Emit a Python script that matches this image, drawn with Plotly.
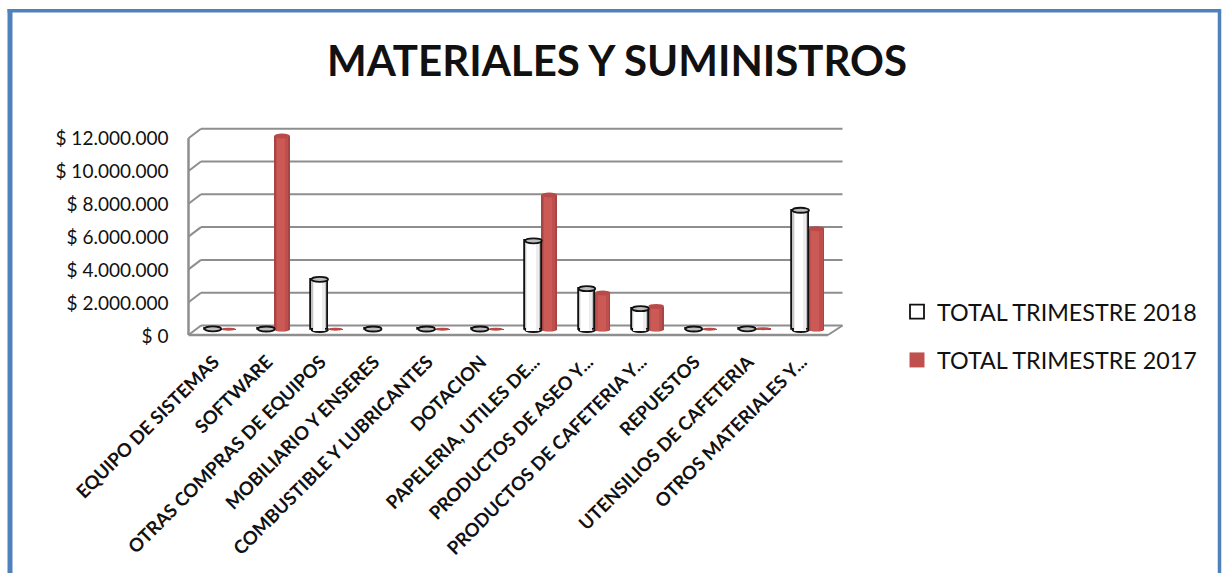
import plotly.graph_objects as go

categories = ["EQUIPO DE SISTEMAS", "SOFTWARE", "OTRAS COMPRAS DE EQUIPOS", "MOBILIARIO Y ENSERES",
              "COMBUSTIBLE Y LUBRICANTES", "DOTACION", "PAPELERIA, UTILES DE...", "PRODUCTOS DE ASEO Y...",
              "PRODUCTOS DE CAFETERIA Y...", "REPUESTOS", "UTENSILIOS DE CAFETERIA", "OTROS MATERIALES Y..."]
total_2018 = [40000, 30000, 3060000, 30000, 30000, 30000, 5410000, 2490000, 1270000, 30000, 40000, 7270000]
total_2017 = [20000, 11800000, 20000, 0, 20000, 20000, 8200000, 2230000, 1410000, 20000, 50000, 6150000]
tick_values = [0, 2000000, 4000000, 6000000, 8000000, 10000000, 12000000]
tick_labels = ["$ 0", "$ 2.000.000", "$ 4.000.000", "$ 6.000.000", "$ 8.000.000", "$ 10.000.000", "$ 12.000.000"]
name_2018 = "TOTAL TRIMESTRE 2018"
name_2017 = "TOTAL TRIMESTRE 2017"

W, H = 1222, 573
FONT = "Lato, Carlito, sans-serif"
GREY = "#8E8E8E"
RED = "#C0504D"
YMAX = 12000000
positions = list(range(len(categories)))


def px(v):
    return v / W


def py(v):
    return 1 - v / H


X_SPAN = (194.03, 835.3)
PX_PER_CAT = (X_SPAN[1] - X_SPAN[0]) / len(categories)
PX_PER_UNIT = 196.8 / YMAX
OFF_W, OFF_R = -7.85 / PX_PER_CAT, 7.85 / PX_PER_CAT
PAD = 1.5 / PX_PER_UNIT  # inner shading layers reach slightly below the base to hide the outline

fig = go.Figure()


def bar_layers(xs, ys, name, layers):
    for i, (w, shift, color, line) in enumerate(layers):
        pad = PAD if i else 0
        fig.add_bar(x=[x + shift / PX_PER_CAT for x in xs], y=[v + pad if v > 100000 else 0 for v in ys] if i else ys,
                    base=-pad if i else None, width=w / PX_PER_CAT, name=name,
                    yaxis="y3", xaxis="x", showlegend=False, hoverinfo="skip" if i else None,
                    marker=dict(color=color, line=dict(color=line, width=1.8 if line != color else 0)))


bar_layers([p + OFF_R for p in positions], total_2017, name_2017,
           [(15.7, 0, "#A64543", "#A64543"), (12.5, 0, "#BE4F4C", "#BE4F4C"), (8, -1, "#CB5A56", "#CB5A56")])
bar_layers([p + OFF_W for p in positions], total_2018, name_2018,
           [(16.6, 0, "#C4C4C4", "#111111"), (12.5, -0.8, "#EDEDED", "#EDEDED"), (8.5, -1.8, "#FFFFFF", "#FFFFFF")])

# legend entries
fig.add_scatter(x=[None], y=[None], mode="markers", name=name_2018, legendgroup="a", xaxis="x", yaxis="y3",
                marker=dict(symbol="square", size=14, color="white", line=dict(color="#111111", width=1.8)))
fig.add_scatter(x=[None], y=[None], mode="markers", name=name_2017, legendgroup="b", xaxis="x", yaxis="y3",
                marker=dict(symbol="square", size=15, color=RED))
# axis carriers
fig.add_scatter(x=[None], y=[None], xaxis="x", yaxis="y", showlegend=False, hoverinfo="skip")
fig.add_scatter(x=[None], y=[None], xaxis="x2", yaxis="y2", showlegend=False, hoverinfo="skip")

shapes = []
# blue frame
for x0, y0, x1, y1, wd in [(10, 9, 10, 573, 5), (7.5, 10.8, 1219.5, 10.8, 3.5), (1219.5, 9, 1219.5, 573, 3.5)]:
    shapes.append(dict(type="line", xref="paper", yref="paper", x0=px(x0), y0=py(y0), x1=px(x1), y1=py(y1),
                       line=dict(color="#4F81BD", width=wd), layer="below"))

# 3D walls and floor
FRONT_L, BACK_L, FRONT_R, BACK_R = 188.5, 201, 828, 842.5
FRONT_0, BACK_0 = 335, 325.5
for t in tick_values:
    dy = t * PX_PER_UNIT
    shapes.append(dict(type="line", xref="paper", yref="paper", x0=px(FRONT_L), y0=py(FRONT_0 - dy),
                       x1=px(BACK_L), y1=py(BACK_0 - dy), line=dict(color=GREY, width=2), layer="below"))
    shapes.append(dict(type="line", xref="paper", yref="paper", x0=px(BACK_L), y0=py(BACK_0 - dy),
                       x1=px(BACK_R), y1=py(BACK_0 - dy), line=dict(color=GREY, width=2), layer="below"))
shapes.append(dict(type="line", xref="paper", yref="paper", x0=px(FRONT_L), y0=py(FRONT_0), x1=px(FRONT_R),
                   y1=py(FRONT_0), line=dict(color=GREY, width=2.5), layer="below"))
shapes.append(dict(type="line", xref="paper", yref="paper", x0=px(FRONT_R), y0=py(FRONT_0), x1=px(BACK_R),
                   y1=py(BACK_0), line=dict(color=GREY, width=2), layer="below"))
shapes.append(dict(type="line", xref="paper", yref="paper", x0=px(FRONT_L), y0=py(FRONT_0), x1=px(FRONT_L),
                   y1=py(FRONT_0 - 196.8), line=dict(color=GREY, width=2.5), layer="below"))


def ellipse(xc, val, w, h, fill, line, width, layer):
    shapes.append(dict(type="circle", xref="x", yref="y3", layer=layer, fillcolor=fill,
                       x0=xc - w / 2 / PX_PER_CAT, x1=xc + w / 2 / PX_PER_CAT,
                       y0=val - h / 2 / PX_PER_UNIT, y1=val + h / 2 / PX_PER_UNIT,
                       line=dict(color=line, width=width)))


for p, a, b in zip(positions, total_2018, total_2017):
    xa, xb = p + OFF_W, p + OFF_R
    if b > 0:
        tall = b > 100000
        if tall:
            ellipse(xb, 0, 15.7, 4, "#A64543", "#A64543", 0, "below")
        ellipse(xb, b, 15.7 if tall else 14, 5 if tall else 3, "#B84B48", "#B84B48", 0, "above")
    if a > 100000:
        ellipse(xa, 0, 16.6, 5, "#FFFFFF", "#111111", 1.8, "below")
    ellipse(xa, a, 16.6, 5, "#BDBDBD", "#111111", 1.8, "above")

BELOW = 5  # px of room under the zero line so the cylinder bottoms are not clipped
fig.update_layout(
    width=W, height=H, autosize=False, margin=dict(l=0, r=0, t=0, b=0, autoexpand=False),
    paper_bgcolor="white", plot_bgcolor="rgba(0,0,0,0)", barmode="overlay", bargap=0,
    font=dict(family=FONT, color="#111111"), shapes=shapes,
    title=dict(text="<b>MATERIALES Y SUMINISTROS</b>", x=617 / W, xanchor="center", xref="paper",
               y=py(61), yanchor="middle", yref="paper", font=dict(size=42, family=FONT, color="#111111")),
    legend=dict(x=px(897), y=py(290), xanchor="left", yanchor="top", font=dict(size=23.3, color="#111111"),
                tracegroupgap=15, itemwidth=30, bgcolor="rgba(0,0,0,0)", traceorder="grouped"),
    xaxis=dict(domain=[px(X_SPAN[0]), px(X_SPAN[1])], range=[-0.5, len(categories) - 0.5], anchor="y3",
               tickmode="array", tickvals=[p - 0.13 for p in positions], ticktext=categories, tickangle=-45,
               automargin=False, ticklabelstandoff=12,
               tickfont=dict(size=18.5, family=FONT, weight="bold", color="#111111"),
               showgrid=False, zeroline=False, showline=False, ticks=""),
    xaxis2=dict(domain=[px(BACK_L), px(BACK_R)], range=[0, 1], anchor="y2", visible=False, showgrid=False,
                automargin=False),
    yaxis=dict(domain=[py(336.5), py(336.5 - 198)], range=[0, YMAX], anchor="free", position=px(FRONT_L),
               side="left", tickmode="array", tickvals=tick_values, ticktext=tick_labels, automargin=False,
               tickfont=dict(size=19, color="#111111"), ticklabelstandoff=20, showgrid=False, zeroline=False,
               showline=False, ticks=""),
    yaxis2=dict(domain=[py(BACK_0), py(BACK_0 - 196.8)], range=[0, YMAX], anchor="x2", showgrid=False,
                showticklabels=False, zeroline=False, showline=False, ticks="", automargin=False),
    yaxis3=dict(domain=[py(329.5 + BELOW), py(329.5 - 196.8 - 4)], range=[-BELOW / PX_PER_UNIT, YMAX + 4 / PX_PER_UNIT],
                anchor="x", showgrid=False, zeroline=False,
                showticklabels=False, showline=False, ticks="", automargin=False),
)

fig.write_html("out.html", config={"displayModeBar": False},
               post_script="document.body.style.margin='0';document.body.style.overflow='hidden';")
